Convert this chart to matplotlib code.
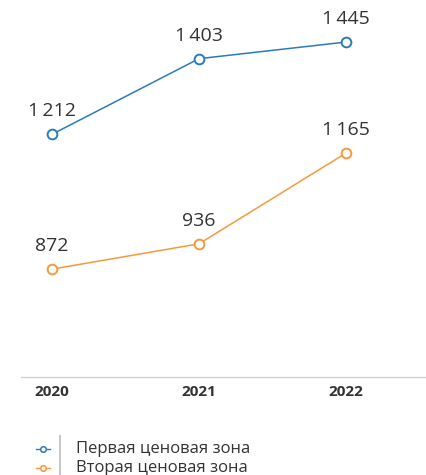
import matplotlib
matplotlib.use("Agg")
import matplotlib.pyplot as plt
from matplotlib.lines import Line2D

years = ["2020", "2021", "2022"]
zone1 = [1212, 1403, 1445]
zone2 = [872, 936, 1165]
labels1 = ["1\u2009212", "1\u2009403", "1\u2009445"]
labels2 = ["872", "936", "1\u2009165"]
series_names = ["Первая ценовая зона", "Вторая ценовая зона"]

c1 = "#2b7bba"
c2 = "#f7993b"
txt = "#333333"

plt.rcParams['font.family'] = ['Open Sans', 'DejaVu Sans']

fig = plt.figure(figsize=(4.27, 4.75), dpi=100)
ax = fig.add_axes([21/427, 1 - 377/475, 1 - 21/427, 377/475])
x = list(range(len(years)))
for vals, labs, c in [(zone1, labels1, c1), (zone2, labels2, c2)]:
    ax.plot(x, vals, color=c, lw=1.1, marker="o", ms=7, mfc="white", mec=c, mew=1.4, zorder=3)
    for xi, v, l in zip(x, vals, labs):
        ax.annotate(l, (xi, v), xytext=(0, 10), textcoords="offset points",
                    ha="center", va="bottom", fontsize=14, color=txt)

ax.set_xlim(-0.21, 2.55)
ax.set_ylim(600, 1551)
ax.set_xticks(x)
ax.set_xticklabels(years, fontsize=11, fontweight="bold", color=txt)
ax.tick_params(axis="x", length=0, pad=6)
ax.set_yticks([])
for s in ["top", "right", "left"]:
    ax.spines[s].set_visible(False)
ax.spines["bottom"].set_color("#d0d0d0")
ax.spines["bottom"].set_linewidth(1)

# legend
for yy, c, name in [(449, c1, series_names[0]), (468, c2, series_names[1])]:
    fy = 1 - yy / 475
    fig.lines.append(Line2D([36/427, 50/427], [fy, fy], color=c, lw=1, transform=fig.transFigure))
    fig.lines.append(Line2D([43/427], [fy], color=c, marker="o", ms=4, mfc="white", mec=c, mew=1.1,
                            transform=fig.transFigure))
    fig.text(76/427, fy, name, fontsize=12, color=txt, va="center", ha="left")
fig.lines.append(Line2D([60/427, 60/427], [1 - 436/475, 0], color="#bbbbbb", lw=1.2, transform=fig.transFigure))

fig.savefig("out.png", dpi=100)
